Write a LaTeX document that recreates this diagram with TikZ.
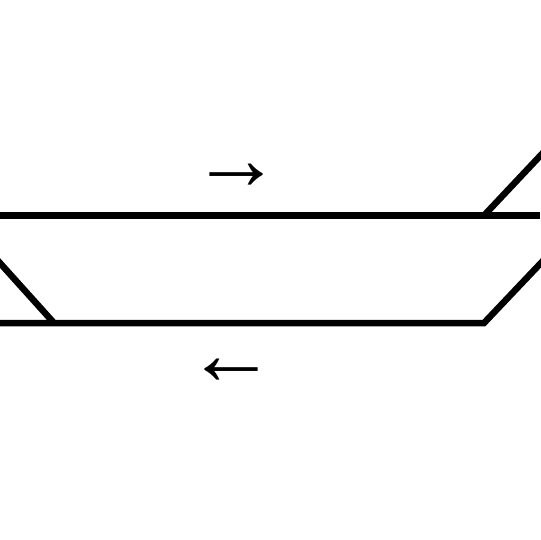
\documentclass[tikz,border=0pt]{standalone}
\usepackage{fontspec}
\newfontfamily\arrowfont{Liberation Sans}
\begin{document}
\begin{tikzpicture}[x=1pt,y=-1pt,
  rail/.style={line width=6.5pt, line join=miter},
  dirlabel/.style={inner sep=0pt, font=\arrowfont\fontsize{90}{94}\selectfont}]
\useasboundingbox (0,0) rectangle (540,540);
% top track
\coordinate (tl) at (0,215.5);
\coordinate (tr) at (540,215.5);
\coordinate (tj) at (484,215.5);
\coordinate (te) at (545,150.7);
\draw[rail] (tl) -- (tr);
\draw[rail] (tj) -- (te);
% bottom track
\coordinate (bs) at (-5,257.5);
\coordinate (bj) at (54,323);
\coordinate (bl) at (0,323);
\coordinate (br) at (484,323);
\coordinate (be) at (545,258.7);
\draw[rail] (bl) -- (br) -- (be);
\draw[rail] (bs) -- (bj);
% direction labels
\node[dirlabel] (up) at (236,177) {→};
\node[dirlabel] (dn) at (231,372) {←};
\end{tikzpicture}
\end{document}
